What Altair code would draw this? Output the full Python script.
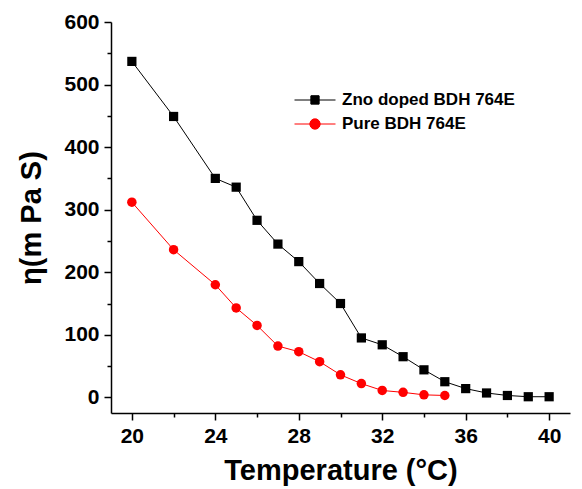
import altair as alt
import pandas as pd
import math

temp_zno = [20, 22, 24, 25, 26, 27, 28, 29, 30, 31, 32, 33, 34, 35, 36, 37, 38, 39, 40]
eta_zno = [537, 449, 350, 336, 283, 245, 217, 182, 150, 95, 84, 65, 44, 25, 14, 7, 3, 1, 1]
temp_pure = [20, 22, 24, 25, 26, 27, 28, 29, 30, 31, 32, 33, 34, 35]
eta_pure = [312, 236, 180, 143, 115, 82, 73, 57, 36, 22, 11, 8, 4, 3]
series = ["Zno doped BDH 764E", "Pure BDH 764E"]
colors = ["#000000", "#ff0000"]

df = pd.concat([
    pd.DataFrame({"T": temp_zno, "eta": eta_zno, "series": series[0]}),
    pd.DataFrame({"T": temp_pure, "eta": eta_pure, "series": series[1]}),
])

FONT = "Liberation Sans"


# legend glyphs: a horizontal line with a (hatch-filled) marker in the middle
def square_glyph(h=0.2, step=0.035):
    p = "M-1,0H1"
    yy = -h
    while yy <= h + 1e-9:
        p += "M%.3f,%.3fH%.3f" % (-h, yy, h)
        yy += step
    p += "M%.3f,%.3fH%.3fV%.3fH%.3fZ" % (-h, -h, h, h, -h)
    return p


def circle_glyph(r=0.25, step=0.035):
    p = "M-1,0H1"
    yy = -r + 0.02
    while yy <= r - 0.02 + 1e-9:
        w = math.sqrt(max(r * r - yy * yy, 0))
        p += "M%.3f,%.3fH%.3f" % (-w, yy, w)
        yy += step
    p += "M%.3f,0A%.3f,%.3f 0 1,1 %.3f,0A%.3f,%.3f 0 1,1 %.3f,0Z" % (r, r, r, -r, r, r, r)
    return p


x = alt.X("T:Q", scale=alt.Scale(domain=[19, 41], nice=False, zero=False),
          axis=alt.Axis(values=list(range(20, 41, 2)),
                        labelExpr="datum.value % 4 == 0 ? datum.label : ''",
                        title="Temperature (°C)", grid=False,
                        titleFontSize=29, labelFontSize=21, titlePadding=10,
                        labelPadding=5,
                        tickSize={"condition": {"test": "datum.value % 4 == 0", "value": 7}, "value": 4}))
y = alt.Y("eta:Q", scale=alt.Scale(domain=[-25, 600], nice=False, zero=False),
          axis=alt.Axis(values=list(range(0, 601, 50)),
                        labelExpr="datum.value % 100 == 0 ? datum.label : ''",
                        title="η(m Pa S)", grid=False,
                        titleFontSize=29, labelFontSize=21, titlePadding=17,
                        labelPadding=5,
                        tickSize={"condition": {"test": "datum.value % 100 == 0", "value": 7}, "value": 4}))

color_scale = alt.Scale(domain=series, range=colors)
leg = alt.Legend(orient="none", legendX=183, legendY=67, title=None,
                 symbolSize=1681, clipHeight=22, labelOffset=6, labelLimit=400,
                 labelFont=FONT, labelFontSize=17, labelFontWeight="bold",
                 labelColor="#000000", symbolStrokeWidth=1, symbolOpacity=1)

lines = alt.Chart(df).mark_line(strokeWidth=1).encode(
    x=x, y=y, color=alt.Color("series:N", scale=color_scale, legend=None), detail="series:N")
sq_points = alt.Chart(df).transform_filter(alt.datum.series == series[0]).mark_point(
    filled=True, size=85, opacity=1, shape="square").encode(
    x=x, y=y, color=alt.Color("series:N", scale=color_scale, legend=None))
ci_points = alt.Chart(df).transform_filter(alt.datum.series == series[1]).mark_point(
    filled=True, size=90, opacity=1, shape="circle").encode(
    x=x, y=y, color=alt.Color("series:N", scale=color_scale, legend=None))
legend_layer = alt.Chart(df).mark_point(
    filled=False, size=1681, strokeOpacity=0, fillOpacity=0, strokeWidth=1).encode(
    x=x, y=y,
    color=alt.Color("series:N", scale=color_scale, legend=leg),
    shape=alt.Shape("series:N", scale=alt.Scale(domain=series, range=[square_glyph(), circle_glyph()]),
                    legend=leg))

chart = alt.layer(legend_layer, lines, sq_points, ci_points).properties(
    width=459, height=391, background="white",
    autosize=alt.AutoSizeParams(type="none"),
    padding={"left": 111, "top": 22, "right": 12, "bottom": 76},
).configure_view(stroke=None).configure_axis(
    domainColor="#000000", domainWidth=1.5, tickColor="#000000", tickWidth=1.5,
    labelFont=FONT, titleFont=FONT, labelFontWeight="bold", titleFontWeight="bold",
    labelColor="#000000", titleColor="#000000",
)

chart.save("out.html", embed_options={"renderer": "svg", "actions": False})
